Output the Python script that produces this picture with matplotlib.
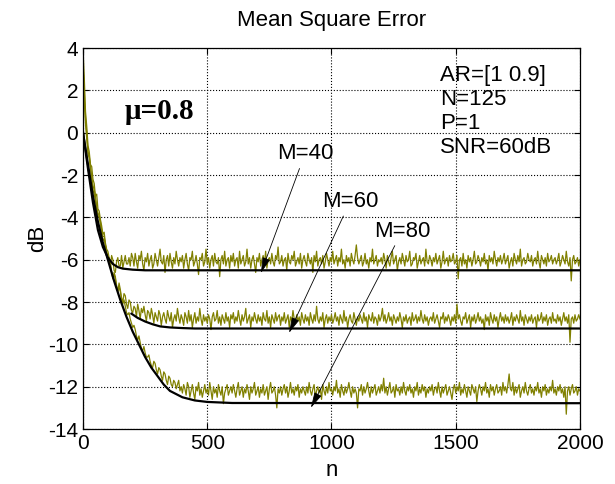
import numpy as np
import matplotlib.pyplot as plt
plt.switch_backend('agg')

plt.rcParams['font.family'] = ['Liberation Sans', 'DejaVu Sans']
plt.rcParams['axes.unicode_minus'] = False

# simulated learning curves, one value every 5 samples
step = 5
mse_m40 = [
    3.9, 2.6, 1.0, 0.3, -0.6, -0.9, -1.5, -1.6, -2.2, -2.4, -3.0, -2.9, -3.6, -3.7, -4.1, -4.4, -4.8, -4.7, -5.2, -5.5,
    -5.6, -5.9, -6.4, -5.8, -6.0, -6.5, -6.6, -6.1, -5.9, -6.3, -6.3, -5.8, -6.4, -6.1, -5.8, -6.2, -6.2, -5.9, -6.3, -5.7,
    -5.9, -6.3, -5.7, -6.1, -6.4, -5.8, -6.0, -5.6, -6.2, -6.5, -5.9, -6.1, -5.7, -6.3, -6.0, -5.8, -6.4, -6.2, -5.7, -6.0,
    -6.3, -5.9, -5.5, -6.1, -6.2, -5.8, -6.6, -6.0, -5.8, -6.3, -5.7, -6.1, -6.4, -5.9, -6.2, -5.6, -6.0, -6.3, -5.9, -6.1,
    -5.8, -6.4, -6.0, -5.7, -6.2, -6.5, -5.9, -6.0, -5.6, -6.3, -6.1, -5.8, -6.2, -6.7, -5.9, -6.0, -5.7, -6.3, -6.1, -5.5,
    -6.2, -5.9, -6.4, -6.0, -5.8, -6.3, -5.7, -6.1, -6.2, -5.9, -6.8, -6.0, -5.8, -6.2, -5.6, -6.3, -6.0, -5.9, -6.4, -5.8,
    -6.1, -5.7, -6.3, -6.0, -5.9, -6.4, -5.6, -6.2, -6.0, -5.8, -6.3, -6.1, -5.5, -6.2, -5.9, -6.4, -6.0, -5.8, -6.2, -6.6,
    -5.9, -6.1, -5.7, -6.3, -6.0, -5.8, -6.2, -5.6, -6.4, -6.0, -5.9, -6.2, -5.7, -6.1, -6.3, -5.8, -6.0, -5.4, -6.2, -6.1,
    -5.8, -6.3, -6.0, -5.9, -6.5, -5.7, -6.1, -6.2, -5.8, -6.0, -5.6, -6.3, -6.1, -5.9, -6.2, -5.7, -6.4, -6.0, -5.8, -6.1,
    -6.3, -5.7, -6.0, -6.2, -5.9, -6.6, -5.8, -6.1, -5.6, -6.3, -6.0, -5.9, -6.2, -5.8, -6.4, -6.1, -5.7, -6.0, -6.3, -5.9,
    -6.1, -5.6, -6.2, -6.0, -5.8, -6.3, -5.9, -6.1, -5.5, -6.2, -6.0, -6.4, -5.8, -6.1, -5.9, -6.3, -5.7, -6.0, -6.2, -5.8,
    -5.3, -5.9, -6.2, -6.0, -5.8, -6.3, -6.1, -5.7, -6.2, -6.0, -6.4, -5.9, -6.1, -5.5, -6.2, -6.0, -5.8, -6.3, -6.0, -6.1,
    -5.9, -6.2, -5.7, -6.0, -6.4, -5.8, -6.1, -6.3, -5.9, -5.6, -6.2, -6.0, -5.8, -6.5, -6.1, -5.9, -6.2, -5.7, -6.0, -6.3,
    -5.8, -6.1, -6.0, -5.6, -6.3, -6.2, -5.9, -6.0, -5.7, -6.4, -6.1, -5.8, -6.2, -6.0, -5.9, -6.3, -5.5, -6.1, -6.2, -5.8,
    -6.0, -6.3, -5.9, -6.1, -5.7, -6.2, -6.0, -5.8, -6.4, -6.1, -5.6, -6.2, -6.0, -5.9, -6.3, -5.8, -6.1, -6.0, -5.7, -6.2,
    -6.1, -5.8, -6.9, -6.0, -5.9, -6.3, -5.7, -6.2, -6.0, -6.4, -5.8, -6.1, -5.9, -6.3, -6.0, -5.6, -6.2, -6.1, -5.8, -6.0,
    -6.3, -5.9, -6.1, -5.7, -6.2, -6.0, -6.5, -5.8, -6.1, -5.9, -6.2, -5.6, -6.0, -6.3, -5.9, -6.1, -5.8, -6.2, -6.0, -5.7,
    -6.2, -6.0, -5.8, -6.4, -6.1, -5.9, -6.3, -5.7, -6.0, -6.2, -5.8, -6.1, -5.5, -6.3, -6.0, -5.9, -6.2, -6.1, -5.7, -6.0,
    -6.1, -5.8, -6.3, -6.0, -5.9, -6.2, -5.6, -6.1, -6.4, -5.8, -6.0, -6.2, -5.9, -6.3, -5.7, -6.1, -6.0, -5.8, -6.2, -6.0,
    -5.9, -6.2, -6.0, -5.7, -6.3, -6.1, -5.8, -6.0, -6.2, -5.6, -6.1, -6.3, -5.9, -7.0, -6.0, -5.8, -6.2, -6.1, -5.9, -6.3,
    -6.0,
]
mse_m60 = [
    2.8, 1.5, 0.4, -0.3, -1.0, -1.2, -1.7, -2.2, -2.7, -2.9, -3.2, -3.6, -3.9, -4.0, -4.3, -4.8, -5.1, -5.0, -5.3, -5.7,
    -6.0, -5.9, -6.2, -6.6, -6.9, -6.6, -6.8, -7.2, -7.5, -7.1, -7.4, -7.8, -8.0, -7.6, -7.7, -8.1, -8.3, -7.9, -8.0, -8.4,
    -8.5, -8.2, -8.3, -8.7, -8.1, -8.4, -8.8, -8.3, -8.5, -8.2, -8.6, -8.9, -8.4, -8.5, -8.8, -8.3, -8.6, -9.0, -8.5, -8.7,
    -8.9, -8.4, -8.6, -9.1, -8.7, -8.5, -8.8, -9.0, -8.4, -8.7, -8.9, -8.5, -9.2, -8.8, -8.6, -8.9, -8.3, -8.7, -9.0, -8.6,
    -8.8, -9.1, -8.5, -8.7, -9.0, -8.4, -8.9, -8.6, -9.2, -8.8, -8.5, -9.0, -8.7, -8.9, -8.3, -8.8, -9.1, -8.6, -8.9, -8.7,
    -9.0, -8.6, -8.8, -9.3, -8.7, -8.5, -8.9, -8.8, -8.4, -9.0, -8.7, -9.1, -8.6, -8.8, -9.0, -8.5, -8.9, -8.7, -9.2, -8.6,
    -8.8, -8.5, -9.0, -8.7, -8.9, -8.4, -8.8, -9.1, -8.6, -8.9, -8.7, -8.3, -9.0, -8.8, -8.6, -9.2, -8.7, -8.9, -8.5, -8.8,
    -9.0, -8.6, -8.9, -8.7, -9.1, -8.5, -8.8, -8.9, -8.4, -9.0, -8.7, -9.2, -8.6, -8.8, -9.0, -8.5, -8.9, -8.7, -8.6, -9.1,
    -8.7, -8.9, -8.5, -9.0, -8.8, -8.6, -9.2, -8.7, -8.9, -8.4, -8.8, -9.0, -8.6, -8.9, -8.7, -9.1, -8.5, -8.8, -9.0, -8.6,
    -8.9, -8.7, -9.1, -8.5, -8.8, -9.0, -8.6, -8.9, -8.2, -8.8, -9.0, -8.7, -8.9, -8.5, -9.2, -8.8, -8.6, -9.0, -8.7, -8.9,
    -8.6, -9.0, -8.8, -8.5, -8.9, -8.7, -9.1, -8.6, -8.8, -9.0, -8.4, -8.9, -8.7, -9.2, -8.8, -8.6, -8.9, -9.0, -8.5, -8.8,
    -9.1, -8.7, -8.9, -8.6, -8.8, -9.0, -8.5, -8.9, -8.7, -9.2, -8.6, -8.8, -8.9, -8.5, -9.0, -8.7, -8.8, -9.1, -8.6, -8.9,
    -8.7, -8.3, -8.9, -8.6, -9.0, -8.8, -8.5, -8.9, -8.7, -9.1, -8.6, -8.8, -9.0, -8.7, -8.9, -8.5, -8.8, -9.2, -8.7, -8.9,
    -8.6, -9.0, -8.8, -8.7, -9.1, -8.5, -8.9, -8.8, -8.6, -9.0, -8.7, -8.9, -8.4, -8.8, -9.0, -8.6, -8.9, -8.7, -9.1, -8.8,
    -8.7, -8.9, -8.5, -9.0, -8.8, -8.6, -8.9, -9.2, -8.7, -8.8, -8.5, -9.0, -8.7, -8.9, -8.6, -8.8, -9.1, -8.7, -8.9, -8.6,
    -9.0, -8.1, -8.8, -8.6, -8.9, -9.1, -8.7, -8.8, -8.5, -9.0, -8.8, -8.6, -9.2, -8.7, -8.9, -8.6, -9.0, -8.8, -8.5, -8.9,
    -8.7, -9.0, -8.8, -9.3, -8.6, -8.9, -8.7, -9.1, -8.5, -8.8, -9.0, -8.6, -8.9, -8.7, -9.2, -8.8, -8.5, -8.9, -8.7, -9.0,
    -8.6, -8.9, -8.7, -9.0, -8.8, -8.5, -9.1, -8.7, -8.9, -8.6, -8.8, -9.0, -8.4, -8.9, -8.7, -9.1, -8.6, -8.8, -9.0, -8.7,
    -8.9, -8.6, -9.0, -8.8, -8.7, -9.2, -8.6, -8.9, -8.8, -8.5, -9.0, -8.7, -8.9, -8.6, -9.1, -8.8, -8.7, -9.0, -8.5, -8.9,
    -8.8, -9.0, -8.6, -8.9, -8.7, -9.1, -8.8, -8.5, -8.9, -8.7, -9.0, -8.6, -9.9, -8.8, -8.7, -9.0, -8.6, -8.9, -8.8, -8.6,
    -8.8,
]
mse_m80 = [
    3.2, 2.0, 0.7, 0.0, -0.9, -1.1, -1.6, -2.1, -2.5, -2.7, -3.0, -3.5, -3.8, -3.9, -4.2, -4.6, -4.9, -4.9, -5.3, -5.6,
    -5.9, -5.9, -6.2, -6.6, -6.8, -6.7, -6.9, -7.3, -7.5, -7.3, -7.5, -7.9, -8.1, -7.9, -8.2, -8.5, -8.6, -8.5, -8.8, -9.0,
    -9.2, -9.1, -9.3, -9.6, -9.8, -9.6, -9.9, -10.2, -10.3, -10.1, -10.4, -10.6, -10.6, -10.5, -10.8, -11.0, -11.1, -10.8, -10.9, -11.2,
    -11.4, -11.1, -11.2, -11.5, -11.7, -11.3, -11.4, -11.7, -11.9, -11.5, -11.6, -11.9, -12.0, -11.7, -11.8, -12.1, -11.9, -11.7, -12.2, -12.0,
    -12.3, -11.9, -12.1, -12.4, -11.8, -12.0, -12.5, -12.2, -11.9, -12.3, -12.6, -12.0, -12.2, -11.8, -12.4, -12.1, -12.5, -12.2, -11.9, -12.3,
    -12.1, -12.4, -11.8, -12.2, -12.6, -12.0, -12.3, -12.1, -12.5, -11.9, -12.2, -12.4, -12.0, -12.8, -12.3, -12.1, -11.9, -12.4, -12.2, -12.0,
    -12.3, -11.9, -12.2, -12.5, -12.1, -11.8, -12.4, -12.2, -12.0, -12.5, -12.1, -12.3, -11.9, -12.2, -12.6, -12.0, -12.3, -12.1, -11.8, -12.4,
    -12.2, -12.0, -12.5, -12.1, -12.3, -11.9, -12.4, -12.2, -12.0, -12.6, -12.1, -11.8, -12.3, -12.2, -12.0, -12.4, -13.0, -12.1, -12.3, -12.0,
    -12.4, -12.1, -11.9, -12.3, -12.0, -12.5, -12.2, -11.8, -12.3, -12.1, -12.4, -12.0, -12.2, -11.9, -12.5, -12.1, -12.3, -12.0, -12.2, -12.4,
    -12.0, -12.3, -11.8, -12.2, -12.4, -12.1, -11.9, -12.5, -12.2, -12.0, -12.3, -12.1, -12.6, -11.9, -12.2, -12.4, -12.0, -12.3, -11.8, -12.2,
    -12.1, -12.4, -12.0, -12.2, -11.7, -12.3, -12.1, -12.5, -11.9, -12.2, -12.4, -12.0, -12.3, -12.1, -11.8, -12.2, -12.5, -12.0, -12.3, -12.1,
    -12.3, -13.0, -12.1, -12.2, -11.9, -12.4, -12.0, -12.3, -12.1, -11.8, -12.2, -12.5, -12.0, -12.3, -12.1, -11.9, -12.4, -12.2, -12.0, -12.3,
    -11.9, -12.2, -11.6, -12.3, -12.0, -12.4, -12.1, -11.8, -12.3, -12.2, -12.0, -12.5, -11.9, -12.2, -12.1, -12.4, -12.0, -12.3, -11.8, -12.2,
    -12.4, -12.0, -12.2, -11.9, -12.3, -12.1, -12.5, -12.0, -12.2, -11.8, -12.4, -12.1, -12.3, -11.9, -12.2, -12.0, -12.5, -12.1, -12.3, -12.0,
    -12.2, -11.9, -12.4, -12.1, -12.0, -12.3, -11.8, -12.2, -12.5, -12.0, -12.3, -12.1, -11.9, -12.4, -12.2, -12.0, -12.3, -12.6, -12.1, -11.9,
    -12.3, -12.0, -12.2, -11.8, -12.4, -12.1, -12.3, -11.9, -12.2, -12.5, -12.0, -12.2, -12.4, -11.9, -12.1, -12.3, -12.0, -12.7, -12.2, -11.9,
    -12.1, -12.4, -12.0, -12.2, -11.8, -12.3, -12.1, -12.5, -11.9, -12.2, -12.0, -12.4, -12.1, -11.9, -12.3, -12.2, -12.0, -12.4, -11.8, -12.2,
    -12.0, -12.3, -11.9, -11.4, -12.1, -12.2, -11.8, -12.4, -12.0, -12.3, -12.1, -11.9, -12.5, -12.2, -12.0, -12.3, -11.8, -12.2, -12.4, -12.1,
    -11.9, -12.3, -12.1, -12.4, -12.0, -12.2, -11.8, -12.3, -12.1, -12.5, -12.0, -12.2, -11.9, -12.4, -12.1, -12.3, -12.0, -12.2, -11.7, -12.3,
    -12.1, -12.4, -12.0, -12.2, -11.9, -12.3, -12.1, -12.5, -12.0, -13.3, -12.2, -12.0, -12.4, -12.1, -11.9, -12.3, -12.2, -12.0, -12.4, -12.1,
    -12.2,
]

# theoretical curves
theory_n_m40 = [0, 20, 40, 60, 80, 100, 120, 140, 160, 200, 250, 300, 2000]
theory_m40 = [0, -1.7, -3.3, -4.6, -5.4, -5.9, -6.2, -6.35, -6.42, -6.47, -6.5, -6.5, -6.5]
theory_n_m60 = [195, 220, 250, 280, 310, 350, 400, 450, 2000]
theory_m60 = [-8.55, -8.75, -8.92, -9.05, -9.15, -9.2, -9.23, -9.25, -9.25]
theory_n_m80 = [0, 20, 40, 60, 80, 100, 125, 150, 175, 200, 225, 250, 275, 300, 325, 350, 400, 450, 500, 600, 2000]
theory_m80 = [0, -1.5, -3.0, -4.2, -5.2, -6.0, -7.0, -7.9, -8.7, -9.4, -10.0, -10.6, -11.1, -11.5, -11.9, -12.2,
              -12.5, -12.65, -12.72, -12.77, -12.78]

labels = ['M=40', 'M=60', 'M=80']
label_pos = [(893, -1.0), (1075, -3.25), (1285, -4.65)]
arrow_tips = [(716, -6.63), (829, -9.46), (917, -13.0)]
info_lines = ['AR=[1 0.9]', 'N=125', 'P=1', 'SNR=60dB']

n = np.arange(0, 2001, step)
assert len(mse_m40) == len(n) and len(mse_m60) == len(n) and len(mse_m80) == len(n)

fig = plt.figure(figsize=(6.15, 4.84), dpi=100)
ax = fig.add_axes([0.135, 0.1136, 0.808, 0.787])

olive = '#808000'
for mse in [mse_m40, mse_m60, mse_m80]:
    ax.plot(n, mse, color=olive, lw=0.9)

for tn, tv in [(theory_n_m40, theory_m40), (theory_n_m60, theory_m60), (theory_n_m80, theory_m80)]:
    ax.plot(tn, tv, color='black', lw=1.6)

ax.set_xlim(0, 2000)
ax.set_ylim(-14, 4)
ax.set_xticks(np.arange(0, 2001, 500))
ax.set_yticks(np.arange(-14, 5, 2))
ax.tick_params(direction='in', top=True, right=True, labelsize=15, length=4, width=0.8)
ax.grid(True, color='black', linestyle=':', lw=0.8)
for s in ax.spines.values():
    s.set_linewidth(0.9)

ax.set_title('Mean Square Error', fontsize=16, pad=16)
ax.set_xlabel('n', fontsize=16, labelpad=5)
ax.set_ylabel('dB', fontsize=16, labelpad=0)

ax.text(306, 1.0, '\u03bc=0.8', fontsize=21, family='Liberation Serif',
        fontweight='bold', ha='center', va='center')

for i, line in enumerate(info_lines):
    ax.text(1437, 2.72 - i * 1.14, line, fontsize=16, ha='left', va='center')

for lab, pos, tip in zip(labels, label_pos, arrow_tips):
    ax.annotate(lab, xy=tip, xytext=pos, fontsize=16, ha='center', va='center',
                arrowprops=dict(arrowstyle='-|>,head_length=0.8,head_width=0.2',
                                color='black', lw=0.6, mutation_scale=12,
                                shrinkA=1, shrinkB=0))

fig.savefig('out.png', dpi=100)
